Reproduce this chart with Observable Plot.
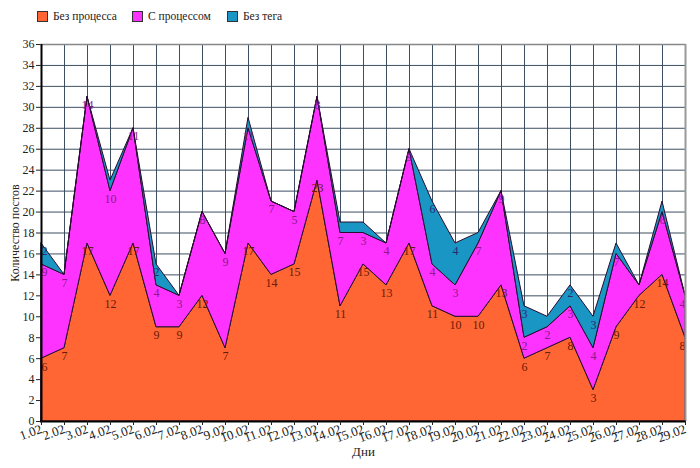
<!DOCTYPE html>
<html>
<head>
<meta charset="utf-8">
<script src="https://cdn.jsdelivr.net/npm/d3@7"></script>
<script src="https://cdn.jsdelivr.net/npm/@observablehq/plot@0.6"></script>
<style>
  body { margin: 0; background: #fff; }
  #wrap { position: relative; width: 700px; height: 468px; font-family: "Liberation Serif", "DejaVu Serif", serif; }
  #legend { position: absolute; left: 0; top: 10px; width: 700px; height: 16px; font-size: 11.5px; color: #222; }
  .item { position: absolute; top: 0; display: flex; align-items: center; white-space: nowrap; }
  .sw { width: 9px; height: 9px; border: 1px solid #333; margin-right: 5px; }
  svg text { font-family: "Liberation Serif", "DejaVu Serif", serif; }
</style>
</head>
<body>
<div id="wrap"><div id="legend"></div></div>
<script>
const days = ["1.02","2.02","3.02","4.02","5.02","6.02","7.02","8.02","9.02","10.02","11.02","12.02","13.02","14.02","15.02","16.02","17.02","18.02","19.02","20.02","21.02","22.02","23.02","24.02","25.02","26.02","27.02","28.02","29.02"];
const seriesNames = ["Без процесса", "С процессом", "Без тега"];
const noProcess   = [6,7,17,12,17,9,9,12,7,17,14,15,23,11,15,13,17,11,10,10,13,6,7,8,3,9,12,14,8];
const withProcess = [9,7,14,10,11,4,3,8,9,11,7,5,8,7,3,4,9,4,3,7,9,2,2,3,4,7,1,6,4];
const noTag       = [2,0,0,1,0,2,0,0,0,1,0,0,0,1,1,0,0,6,4,1,0,3,1,2,3,1,0,1,0];
const yTicks = d3.range(0, 37, 2);

const colors = ["#ff6633", "#ff33ff", "#1a96c4"];
const labelColors = ["#6a1a08", "#8a1a8a", "#2a2a70"];

const valuesBySeries = [noProcess, withProcess, noTag];
const data = [];
seriesNames.forEach((s, i) => {
  days.forEach((d, j) => data.push({day: d, series: s, value: valuesBySeries[i][j]}));
});

const legend = document.getElementById("legend");
const legendLeft = [37, 132, 227];
seriesNames.forEach((s, i) => {
  const it = document.createElement("div");
  it.className = "item";
  it.style.left = legendLeft[i] + "px";
  it.innerHTML = `<span class="sw" style="background:${colors[i]}"></span><span>${s}</span>`;
  legend.appendChild(it);
});

const first = days[0], last = days[days.length - 1];
const textMarks = [];
seriesNames.forEach((s, i) => {
  const base = {
    x: "day", y: "value", z: "series", order: seriesNames,
    text: d => (d.series === s && d.value > 1) ? String(d.value) : "",
    fill: labelColors[i], dy: 8, fontSize: 12
  };
  textMarks.push(
    Plot.text(data, Plot.stackY2({...base, filter: d => d.day !== first && d.day !== last})),
    Plot.text(data, Plot.stackY2({...base, filter: d => d.day === first, textAnchor: "start", dx: 0})),
    Plot.text(data, Plot.stackY2({...base, filter: d => d.day === last, textAnchor: "end", dx: 0}))
  );
});

const chart = Plot.plot({
  width: 700,
  height: 468,
  marginLeft: 40,
  marginRight: 14,
  marginTop: 44,
  marginBottom: 47,
  style: {fontFamily: "'Liberation Serif', 'DejaVu Serif', serif", fontSize: "12px", color: "#222", background: "#fff"},
  x: {type: "point", domain: days, padding: 0, label: null},
  y: {domain: [0, 36], ticks: yTicks, label: null},
  color: {domain: seriesNames, range: colors},
  marks: [
    Plot.gridX(days, {stroke: "#34465a", strokeOpacity: 0.95}),
    Plot.gridY(yTicks, {stroke: "#34465a", strokeOpacity: 0.95}),
    Plot.ruleY([36], {stroke: "#888", strokeWidth: 1.5}),
    Plot.areaY(data, {x: "day", y: "value", fill: "series", z: "series", order: seriesNames, stroke: "#2a0c30", strokeWidth: 1}),
    ...textMarks,
    Plot.ruleX([last], {stroke: "#999", strokeWidth: 2}),
    Plot.ruleX([first], {stroke: "#000", strokeWidth: 2}),
    Plot.ruleY([0], {stroke: "#000", strokeWidth: 2}),
    Plot.axisY({ticks: yTicks, tickSize: 4, tickPadding: 2, label: "Количество постов", labelAnchor: "center", labelArrow: "none", labelOffset: 30, fontSize: 12}),
    Plot.axisX({tickRotate: -20, tickSize: 4, tickPadding: 3, label: "Дни", labelAnchor: "center", labelArrow: "none", labelOffset: 34, fontSize: 13})
  ]
});
document.getElementById("wrap").appendChild(chart);
</script>
</body>
</html>
